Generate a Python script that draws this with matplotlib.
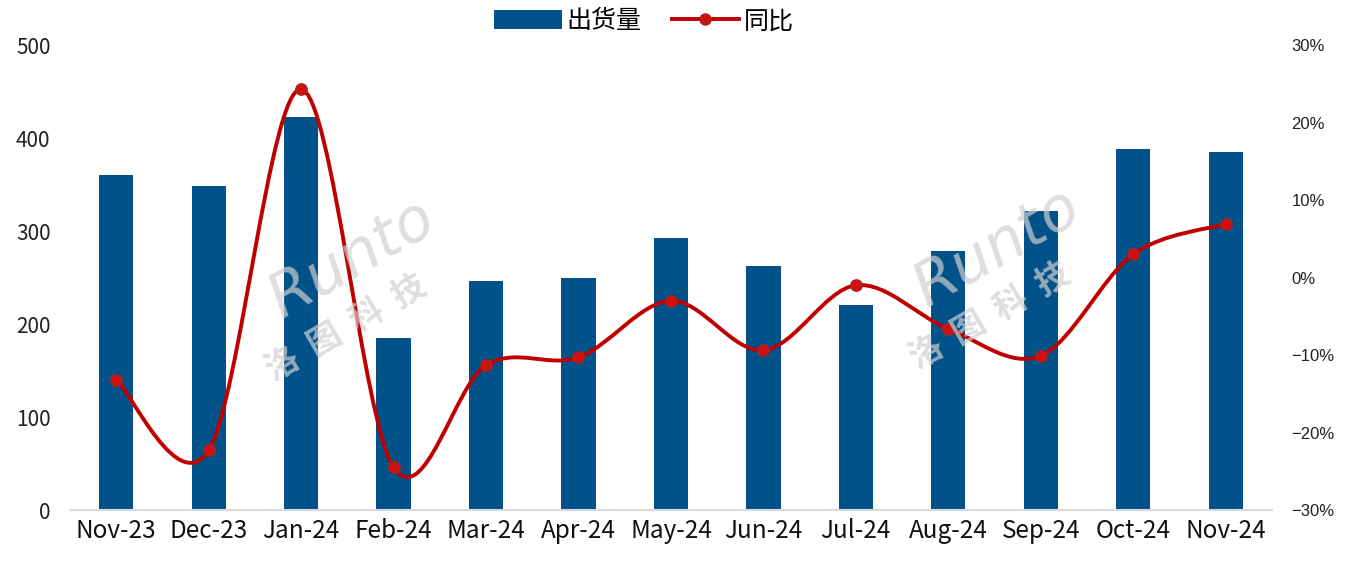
import matplotlib
matplotlib.use("Agg")
import matplotlib.pyplot as plt
from matplotlib.path import Path
from matplotlib.patches import PathPatch
from matplotlib.lines import Line2D
from matplotlib.patches import Patch
import numpy as np

plt.rcParams['font.family'] = ['Noto Sans CJK SC', 'DejaVu Sans']

months = ["Nov-23", "Dec-23", "Jan-24", "Feb-24", "Mar-24", "Apr-24", "May-24",
          "Jun-24", "Jul-24", "Aug-24", "Sep-24", "Oct-24", "Nov-24"]
shipments = [360, 348, 423, 185, 246, 250, 292, 262, 220, 278, 322, 388, 385]
yoy = [-13.2, -22.3, 24.3, -24.5, -11.3, -10.3, -3.0, -9.4, -1.0, -6.6, -10.1, 3.0, 6.9]

bar_color = "#02528A"
line_color = "#C00000"

fig = plt.figure(figsize=(13.56, 5.65), dpi=100)
ax = fig.add_axes([0.0516, 0.0973, 0.8864, 0.8230])
ax2 = ax.twinx()

x = np.arange(len(months))
ax.bar(x, shipments, width=0.37, color=bar_color, zorder=2)
ax.set_xlim(-0.5, len(months) - 0.5)
ax.set_ylim(0, 500)
ax.set_yticks([0, 100, 200, 300, 400, 500])
ax.set_xticks(x)
ax.set_xticklabels(months, fontsize=17.5)
ax.tick_params(axis='y', labelsize=15, length=0, pad=14, colors="#222222")
ax.tick_params(axis='x', length=0, pad=6, colors="#111111")
for s in ["top", "right", "left"]:
    ax.spines[s].set_visible(False)
ax.spines["bottom"].set_color("#D9D9D9")
ax.spines["bottom"].set_linewidth(1.5)

# smoothed line (Excel style) through the points
ax2.set_ylim(-30, 30)
ax2.set_yticks([-30, -20, -10, 0, 10, 20, 30])
ax2.set_yticklabels(["\u221230%", "\u221220%", "\u221210%", "0%", "10%", "20%", "30%"],
                    family=["Liberation Sans", "DejaVu Sans"])
ax2.tick_params(axis='y', labelsize=12, length=0, pad=14, colors="#222222")
for s in ["top", "right", "left", "bottom"]:
    ax2.spines[s].set_visible(False)

pts = np.column_stack([x, yoy]).astype(float)
verts = [pts[0]]
codes = [Path.MOVETO]
n = len(pts)
for i in range(n - 1):
    p0 = pts[i - 1] if i > 0 else pts[i]
    p1 = pts[i]
    p2 = pts[i + 1]
    p3 = pts[i + 2] if i + 2 < n else pts[i + 1]
    c1 = p1 + (p2 - p0) / 6
    c2 = p2 - (p3 - p1) / 6
    verts += [c1, c2, p2]
    codes += [Path.CURVE4] * 3
ax2.add_patch(PathPatch(Path(verts, codes), facecolor="none", edgecolor=line_color,
                        lw=2.8, zorder=4))
ax2.plot(x, yoy, linestyle="none", marker="o", markersize=8,
         markerfacecolor="#D01010", markeredgecolor="#B02020", markeredgewidth=1.2, zorder=5)

# watermark
for wx, wy in [(0.26, 0.50), (0.735, 0.52)]:
    fig.text(wx, wy + 0.04, "Runto", fontsize=44, style="italic", color="#D0D0D0",
             alpha=0.7, rotation=30, ha="center", va="center", family="DejaVu Sans",
             fontweight="light", zorder=3)
    fig.text(wx - 0.005, wy - 0.08, "洛  图  科  技", fontsize=24, color="#D0D0D0", alpha=0.7,
             rotation=30, ha="center", va="center", fontweight="bold", zorder=3)

handles = [Patch(facecolor=bar_color, edgecolor="none"),
           Line2D([0], [0], color=line_color, lw=2.8, marker="o", markersize=8,
                  markerfacecolor="#D01010", markeredgecolor="#B02020")]
fig.legend(handles, ["出货量", "同比"], loc="center", bbox_to_anchor=(0.475, 0.962),
           ncol=2, frameon=False, fontsize=18, handlelength=2.7, handleheight=0.8,
           columnspacing=1.2, handletextpad=0.2)

fig.savefig("out.png", dpi=100)
